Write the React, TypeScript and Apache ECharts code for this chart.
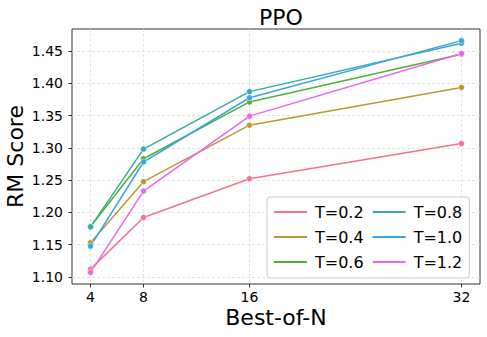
import React, { useEffect, useRef } from "react";
import * as echarts from "echarts";

const bestOfN = [4, 8, 16, 32];
const temps = ["T=0.2", "T=0.4", "T=0.6", "T=0.8", "T=1.0", "T=1.2"];
const t02 = [1.112, 1.192, 1.252, 1.3065];
const t04 = [1.153, 1.2475, 1.335, 1.3935];
const t06 = [1.178, 1.283, 1.371, 1.445];
const t08 = [1.1776, 1.298, 1.387, 1.462];
const t10 = [1.1477, 1.278, 1.3775, 1.466];
const t12 = [1.107, 1.233, 1.349, 1.446];
const seriesValues = [t02, t04, t06, t08, t10, t12];
const yTicks = [1.1, 1.15, 1.2, 1.25, 1.3, 1.35, 1.4, 1.45];
const colors = ["#f77189", "#bb9832", "#50b131", "#36ada4", "#3ba3ec", "#e866f4"];
const legendOrder = ["T=0.2", "T=0.8", "T=0.4", "T=1.0", "T=0.6", "T=1.2"];

const FONT = "DejaVu Sans";

export default function App() {
  const ref = useRef<HTMLDivElement>(null);
  useEffect(() => {
    document.body.style.margin = "0";
    const chart = echarts.init(ref.current!, null, { renderer: "svg" });
    chart.setOption({
      animation: false,
      textStyle: { fontFamily: FONT },
      title: {
        text: "PPO",
        left: 276,
        textAlign: "center",
        top: 1,
        textStyle: { fontFamily: FONT, fontSize: 22, fontWeight: "normal", color: "#000" },
      },
      grid: {
        left: 72,
        right: 7,
        top: 29,
        bottom: 53,
        containLabel: false,
        outerBoundsMode: "none",
        show: true,
        borderColor: "#333",
        borderWidth: 1,
        backgroundColor: "#fff",
      },
      legend: {
        data: legendOrder,
        orient: "horizontal",
        left: 267,
        top: 197,
        width: 195,
        padding: [7, 7, 8, 7],
        itemGap: 9,
        itemWidth: 33,
        itemHeight: 2,
        icon: "rect",
        itemStyle: { borderWidth: 0, opacity: 1 },
        backgroundColor: "rgba(255,255,255,0.8)",
        borderColor: "#ccc",
        borderWidth: 1,
        borderRadius: 3,
        textStyle: {
          fontFamily: FONT,
          fontSize: 16,
          color: "#000",
          lineHeight: 13,
          padding: [0, 0, 0, 3],
        },
      },
      xAxis: {
        type: "value",
        min: 2.6,
        max: 33.4,
        name: "Best-of-N",
        nameLocation: "middle",
        nameGap: 22,
        nameMoveOverlap: false,
        nameTextStyle: { fontFamily: FONT, fontSize: 22, color: "#000", verticalAlign: "top" },
        axisLine: { show: false },
        axisTick: { show: true, customValues: bestOfN, length: 3.5, lineStyle: { color: "#333" } },
        axisLabel: {
          customValues: bestOfN,
          fontFamily: FONT,
          fontSize: 14,
          color: "#000",
          margin: 6,
        },
        splitLine: { show: true, lineStyle: { color: "#dddddd", type: [3, 2], width: 0.8 } },
      },
      yAxis: {
        type: "value",
        min: 1.089,
        max: 1.484,
        name: "RM Score",
        nameLocation: "middle",
        nameGap: 46,
        nameMoveOverlap: false,
        nameTextStyle: { fontFamily: FONT, fontSize: 22, color: "#000" },
        axisLine: { show: false },
        axisTick: { show: true, customValues: yTicks, length: 3.5, lineStyle: { color: "#333" } },
        axisLabel: {
          customValues: yTicks,
          fontFamily: FONT,
          fontSize: 14,
          color: "#000",
          margin: 9,
          formatter: (v: number) => v.toFixed(2),
        },
        splitLine: { show: true, lineStyle: { color: "#dddddd", type: [3, 2], width: 0.8 } },
      },
      series: temps.map((name, i) => ({
        name,
        type: "line",
        data: bestOfN.map((n, j) => [n, seriesValues[i][j]]),
        symbol: "circle",
        symbolSize: 6,
        color: colors[i],
        lineStyle: { width: 1.5, color: colors[i] },
        itemStyle: { color: colors[i], borderColor: "#fff", borderWidth: 0.5 },
      })),
    });
    return () => chart.dispose();
  }, []);
  return <div ref={ref} style={{ width: 487, height: 337 }} />;
}
